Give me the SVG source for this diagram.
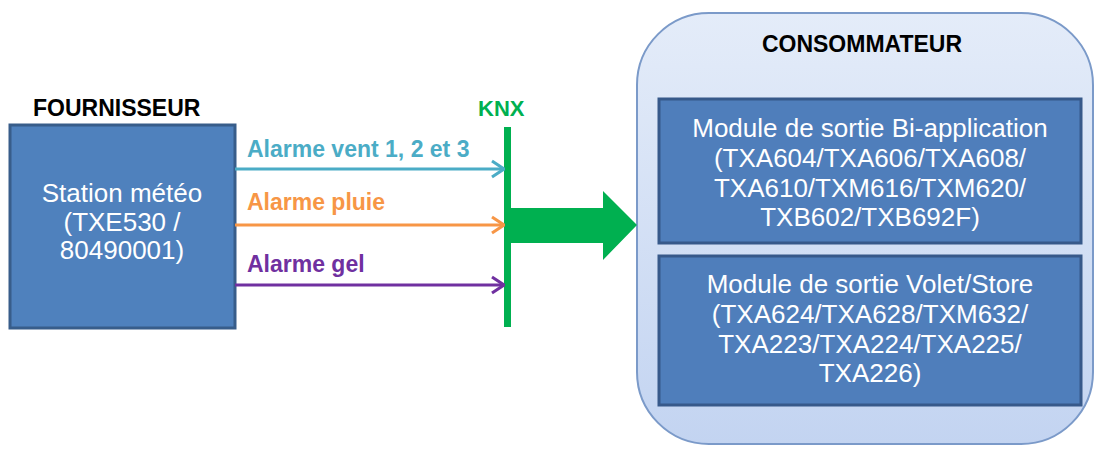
<svg xmlns="http://www.w3.org/2000/svg" width="1101" height="454" viewBox="0 0 1101 454">
<defs>
<style>
.hdr{font-family:"Liberation Sans",Arial,sans-serif;font-weight:bold;font-size:23px;fill:#000}
.knx{font-family:"Liberation Sans",Arial,sans-serif;font-weight:bold;font-size:22px;fill:#00B050}
.lbl{font-family:"Liberation Sans",Arial,sans-serif;font-weight:bold;font-size:23px}
.wt{font-family:"Liberation Sans",Arial,sans-serif;font-size:26px;fill:#fff;text-anchor:middle}
.mod{fill:#4F7EBB;stroke:#37598A;stroke-width:3}
.conn{fill:none;stroke-width:3}
</style>
<linearGradient id="cg" x1="0" y1="0" x2="0" y2="1">
<stop offset="0" stop-color="#e4ecf9"/>
<stop offset="1" stop-color="#c3d4f1"/>
</linearGradient>
<marker id="mb" viewBox="0 0 14 20" refX="13" refY="10" markerWidth="14" markerHeight="20" markerUnits="userSpaceOnUse" orient="auto"><path d="M1,2 L13,10 L1,18" fill="none" stroke="#4BACC6" stroke-width="3"/></marker>
<marker id="mo" viewBox="0 0 14 20" refX="13" refY="10" markerWidth="14" markerHeight="20" markerUnits="userSpaceOnUse" orient="auto"><path d="M1,2 L13,10 L1,18" fill="none" stroke="#F79646" stroke-width="3"/></marker>
<marker id="mp" viewBox="0 0 14 20" refX="13" refY="10" markerWidth="14" markerHeight="20" markerUnits="userSpaceOnUse" orient="auto"><path d="M1,2 L13,10 L1,18" fill="none" stroke="#7030A0" stroke-width="3"/></marker>
</defs>
<rect width="1101" height="454" fill="#fff"/>

<g id="fournisseur">
<text class="hdr" x="33" y="116">FOURNISSEUR</text>
<rect x="10" y="125" width="225" height="203" fill="#4F81BD" stroke="#385D8A" stroke-width="3"/>
<text class="wt" x="122" y="202">Station météo</text>
<text class="wt" x="122" y="231">(TXE530 /</text>
<text class="wt" x="122" y="259">80490001)</text>
</g>

<g id="knx">
<text class="knx" x="478" y="116">KNX</text>
<rect x="504" y="127" width="7" height="200" fill="#00B050"/>
</g>

<g id="consommateur">
<rect x="637" y="13" width="456" height="431" rx="72" ry="72" fill="url(#cg)" stroke="#7b9ac9" stroke-width="2"/>
<text class="hdr" x="862" y="52" text-anchor="middle">CONSOMMATEUR</text>
</g>

<g id="module1">
<rect class="mod" x="659" y="99" width="422" height="144"/>
<text class="wt" x="870" y="137">Module de sortie Bi-application</text>
<text class="wt" x="870" y="167">(TXA604/TXA606/TXA608/</text>
<text class="wt" x="870" y="197">TXA610/TXM616/TXM620/</text>
<text class="wt" x="870" y="226">TXB602/TXB692F)</text>
</g>

<g id="module2">
<rect class="mod" x="659" y="256" width="422" height="149"/>
<text class="wt" x="870" y="293">Module de sortie Volet/Store</text>
<text class="wt" x="870" y="323">(TXA624/TXA628/TXM632/</text>
<text class="wt" x="870" y="353">TXA223/TXA224/TXA225/</text>
<text class="wt" x="870" y="382">TXA226)</text>
</g>

<g id="connectors">
<line class="conn" x1="235" y1="169" x2="504" y2="169" stroke="#4BACC6" marker-end="url(#mb)"/>
<text class="lbl" x="247" y="157" fill="#4BACC6">Alarme vent 1, 2 et 3</text>
<line class="conn" x1="235" y1="225" x2="504" y2="225" stroke="#F79646" marker-end="url(#mo)"/>
<text class="lbl" x="247" y="210" fill="#F79646">Alarme pluie</text>
<line class="conn" x1="235" y1="285" x2="504" y2="285" stroke="#7030A0" marker-end="url(#mp)"/>
<text class="lbl" x="247" y="272" fill="#7030A0">Alarme gel</text>
<path d="M510,208 L603,208 L603,191 L637,225 L603,260 L603,243 L510,243 Z" fill="#00B050"/>
</g>
</svg>
